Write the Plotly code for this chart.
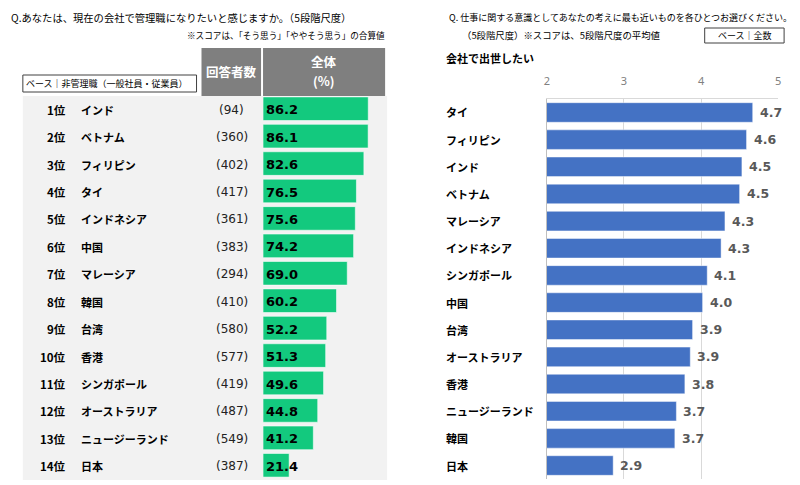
import plotly.graph_objects as go

# ---------------- data ----------------
left_ranks = list(range(1, 15))
left_countries = ["インド", "ベトナム", "フィリピン", "タイ", "インドネシア", "中国", "マレーシア",
                  "韓国", "台湾", "香港", "シンガポール", "オーストラリア", "ニュージーランド", "日本"]
left_counts = [94, 360, 402, 417, 361, 383, 294, 410, 580, 577, 419, 487, 549, 387]
left_values = [86.2, 86.1, 82.6, 76.5, 75.6, 74.2, 69.0, 60.2, 52.2, 51.3, 49.6, 44.8, 41.2, 21.4]

right_countries = ["タイ", "フィリピン", "インド", "ベトナム", "マレーシア", "インドネシア", "シンガポール",
                   "中国", "台湾", "オーストラリア", "香港", "ニュージーランド", "韓国", "日本"]
right_values = [4.67, 4.59, 4.53, 4.50, 4.31, 4.26, 4.08, 4.02, 3.89, 3.86, 3.79, 3.68, 3.66, 2.86]
right_ticks = [2, 3, 4, 5]

W, H = 800, 485
def px(x): return x / W
def py(y): return 1 - y / H

JP = "Noto Sans CJK JP"
NUM = "DejaVu Sans"
GREEN = "#13c97e"
BLUE = "#4472c4"

fig = go.Figure()

fig.add_trace(go.Bar(
    x=left_values, y=left_countries, orientation="h", width=0.86,
    marker=dict(color=GREEN, line=dict(color="rgba(255,255,255,0.55)", width=1)),
    xaxis="x", yaxis="y", hoverinfo="skip", showlegend=False,
))
fig.add_trace(go.Bar(
    x=right_values, y=right_countries, orientation="h", width=0.72,
    marker=dict(color=BLUE, line=dict(color="rgba(255,255,255,0.45)", width=1)),
    xaxis="x2", yaxis="y2", hoverinfo="skip", showlegend=False,
))

ann = []
# titles
ann.append(dict(text="Q.あなたは、現在の会社で管理職になりたいと感じますか。（5段階尺度）",
                x=px(6), y=py(18), xanchor="left", yanchor="middle",
                font=dict(family=JP, size=10.3, color="#000")))
ann.append(dict(text="※スコアは、「そう思う」「ややそう思う」の合算値",
                x=px(387), y=py(35), xanchor="right", yanchor="middle",
                font=dict(family=JP, size=8.6, color="#000")))
ann.append(dict(text="ベース｜非管理職（一般社員・従業員）",
                x=px(21), y=py(83.5), xanchor="left", yanchor="middle",
                font=dict(family=JP, size=9, color="#000")))
ann.append(dict(text="<b>回答者数</b>", x=px(230), y=py(71), xanchor="center", yanchor="middle",
                font=dict(family=JP, size=12.5, color="white")))
ann.append(dict(text="<b>全体</b>", x=px(323.5), y=py(62), xanchor="center", yanchor="middle",
                font=dict(family=JP, size=12.5, color="white")))
ann.append(dict(text="<b>(%)</b>", x=px(323.5), y=py(81), xanchor="center", yanchor="middle",
                font=dict(family=JP, size=12.5, color="white")))

for r, c, n, v in zip(left_ranks, left_countries, left_counts, left_values):
    ann.append(dict(text=f"<b>{r}位</b>", x=px(65), xref="paper", y=c, yref="y",
                    xanchor="right", yanchor="middle", yshift=-1,
                    font=dict(family=JP, size=11.5, color="#000")))
    ann.append(dict(text=f"<b>{c}</b>", x=px(77), xref="paper", y=c, yref="y",
                    xanchor="left", yanchor="middle", yshift=-1,
                    font=dict(family=JP, size=11, color="#000")))
    ann.append(dict(text=f"({n})", x=px(230.5), xref="paper", y=c, yref="y",
                    xanchor="center", yanchor="middle", yshift=-1,
                    font=dict(family=NUM, size=12, color="#222")))
    ann.append(dict(text=f"<b>{v:.1f}</b>", x=0, xref="x", y=c, yref="y",
                    xanchor="left", yanchor="middle", xshift=1, yshift=-1,
                    font=dict(family=NUM, size=13, color="#000")))

# right panel texts
ann.append(dict(text="Q. 仕事に関する意識としてあなたの考えに最も近いものを各ひとつお選びください。",
                x=px(447), y=py(18), xanchor="left", yanchor="middle",
                font=dict(family=JP, size=9.0, color="#000")))
ann.append(dict(text="（5段階尺度）※スコアは、5段階尺度の平均値",
                x=px(460), y=py(35), xanchor="left", yanchor="middle",
                font=dict(family=JP, size=9.4, color="#000")))
ann.append(dict(text="ベース｜全数", x=px(747.5), y=py(35.5), xanchor="center", yanchor="middle",
                font=dict(family=JP, size=9, color="#000")))
ann.append(dict(text="<b>会社で出世したい</b>", x=px(444), y=py(58), xanchor="left", yanchor="middle",
                font=dict(family=JP, size=11, color="#000")))
for c, v in zip(right_countries, right_values):
    ann.append(dict(text=f"<b>{c}</b>", x=px(444), xref="paper", y=c, yref="y2",
                    xanchor="left", yanchor="middle",
                    font=dict(family=JP, size=11, color="#000")))
    ann.append(dict(text=f"<b>{v:.1f}</b>", x=v, xref="x2", y=c, yref="y2",
                    xanchor="left", yanchor="middle", xshift=5,
                    font=dict(family=NUM, size=12.5, color="#595959")))

for a in ann:
    a.setdefault("xref", "paper")
    a.setdefault("yref", "paper")
    a["showarrow"] = False

shapes = [
    dict(type="rect", xref="paper", yref="paper", x0=px(20), x1=px(387), y0=py(480), y1=py(96),
         fillcolor="#f2f2f2", line=dict(width=0), layer="below"),
    dict(type="rect", xref="paper", yref="paper", x0=px(200), x1=px(260), y0=py(96), y1=py(48),
         fillcolor="#7f7f7f", line=dict(width=0), layer="below"),
    dict(type="rect", xref="paper", yref="paper", x0=px(262), x1=px(385), y0=py(96), y1=py(48),
         fillcolor="#7f7f7f", line=dict(width=0), layer="below"),
    dict(type="rect", xref="paper", yref="paper", x0=px(20), x1=px(195), y0=py(92), y1=py(75),
         fillcolor="white", line=dict(color="#404040", width=1), layer="below"),
    dict(type="rect", xref="paper", yref="paper", x0=px(707), x1=px(787), y0=py(43), y1=py(28),
         fillcolor="white", line=dict(color="#404040", width=1), layer="below"),
]

fig.update_layout(
    width=W, height=H, margin=dict(l=0, r=0, t=0, b=0),
    paper_bgcolor="white", plot_bgcolor="rgba(0,0,0,0)",
    showlegend=False, annotations=ann, shapes=shapes,
    xaxis=dict(domain=[px(262), px(385)], range=[0, 100], visible=False, fixedrange=True),
    yaxis=dict(domain=[py(479), py(95)], type="category", categoryorder="array",
               categoryarray=left_countries, autorange="reversed", visible=False),
    xaxis2=dict(domain=[px(548), px(781)], range=[2, 5], anchor="y2", side="top",
                tickvals=right_ticks, ticktext=[str(t) for t in right_ticks],
                showgrid=True, gridcolor="#d9d9d9", gridwidth=1,
                showline=True, linecolor="#d9d9d9", zeroline=False, ticks="",
                ticklabelstandoff=9,
                tickfont=dict(family="Noto Sans", size=11, color="#808080")),
    yaxis2=dict(domain=[py(479.1), py(98.9)], anchor="x2", type="category", categoryorder="array",
                categoryarray=right_countries, autorange="reversed",
                showticklabels=False, showgrid=False, zeroline=False, ticks="",
                showline=True, linecolor="#bfbfbf"),
)

fig.write_html("out.html", config={"displayModeBar": False},
               post_script="document.body.style.margin='0';document.body.style.overflow='hidden';")
